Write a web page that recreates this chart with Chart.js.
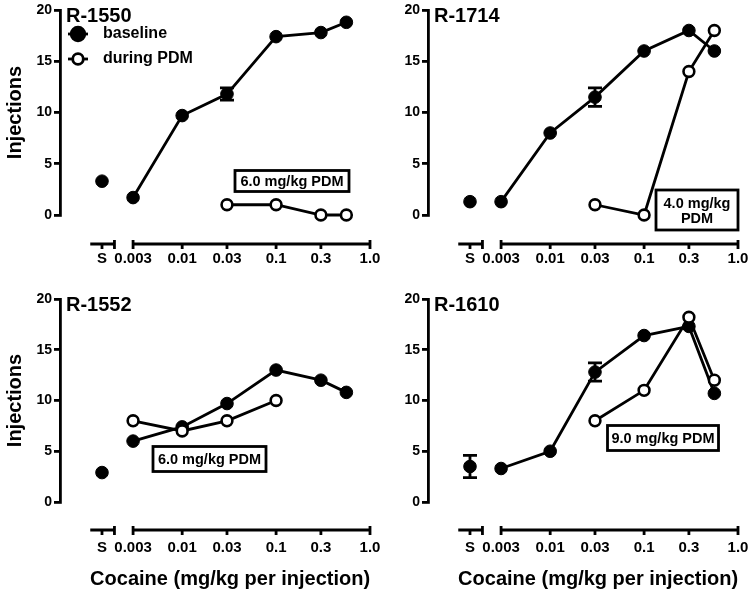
<!DOCTYPE html>
<html>
<head>
<meta charset="utf-8">
<script src="https://cdn.jsdelivr.net/npm/chart.js@4.4.1/dist/chart.umd.min.js"></script>
<style>
html,body{margin:0;padding:0;background:#fff;}
#wrap{position:relative;width:751px;height:594px;overflow:hidden;background:#fff;}
canvas{position:absolute;}
</style>
</head>
<body>
<div id="wrap">
<canvas id="c1" width="390" height="290" style="left:0;top:0"></canvas>
<canvas id="c2" width="381" height="290" style="left:370px;top:0"></canvas>
<canvas id="c3" width="390" height="304" style="left:0;top:290px"></canvas>
<canvas id="c4" width="381" height="304" style="left:370px;top:290px"></canvas>
</div>
<script>
// ---------------- DATA ----------------
const doses = [0.003, 0.01, 0.03, 0.1, 0.3, 0.56];
const salineDose = 0.0014;
const xTickValues = [0.0014, 0.003, 0.01, 0.03, 0.1, 0.3, 1.0];
const xTickLabels = ['S', '0.003', '0.01', '0.03', '0.1', '0.3', '1.0'];
const yTickValues = [0, 5, 10, 15, 20];
const subjects = ['R-1550', 'R-1714', 'R-1552', 'R-1610'];
const pdmDoseLabels = [['6.0 mg/kg PDM'], ['4.0 mg/kg', 'PDM'], ['6.0 mg/kg PDM'], ['9.0 mg/kg PDM']];
const legendLabels = ['baseline', 'during PDM'];
const xAxisTitle = 'Cocaine (mg/kg per injection)';
const yAxisTitle = 'Injections';

const salineR1550 = 3.3, salineErrR1550 = 0;
const baselineR1550 = [1.7, 9.7, 11.8, 17.4, 17.8, 18.8];
const baselineErrR1550 = [0, 0, 0.6, 0, 0, 0];
const pdmR1550 = [null, null, 1, 1, 0, 0];

const salineR1714 = 1.3, salineErrR1714 = 0;
const baselineR1714 = [1.3, 8.0, 11.5, 16.0, 18.0, 16.0];
const baselineErrR1714 = [0, 0, 0.9, 0, 0, 0];
const pdmR1714 = [null, null, 1, 0, 14, 18];

const salineR1552 = 2.9, salineErrR1552 = 0;
const baselineR1552 = [6.0, 7.4, 9.7, 13.0, 12.0, 10.8];
const baselineErrR1552 = [0, 0, 0, 0, 0, 0];
const pdmR1552 = [8, 7, 8, 10, null, null];

const salineR1610 = 3.5, salineErrR1610 = 1.1;
const baselineR1610 = [3.3, 5.0, 12.8, 16.4, 17.3, 10.7];
const baselineErrR1610 = [0, 0, 0.9, 0, 0, 0];
const pdmR1610 = [null, null, 8, 11, 18.2, 12];

// ---------------- STYLE / LAYOUT ----------------
const FONT = "'Liberation Sans', Arial, Helvetica, sans-serif";
Chart.defaults.font.family = FONT;
Chart.defaults.color = '#000';

const axisSegments = [[0.00105, 0.0019], [0.003, 1.0]];
const axisCaps = [0.0019, 0.003, 1.0];

const panels = [
  { id: 'c1', subj: 0, sal: salineR1550, salErr: salineErrR1550, base: baselineR1550, baseErr: baselineErrR1550, pdm: pdmR1550,
    pad: { left: 3, right: 20, top: 10, bottom: 0 }, yW: 57, xH: 75, yTitle: true, xTitle: false, tickGap: 36, axisGap: 29,
    legend: true, box: { cx: 292, cy: 181, w: 114, h: 21 } },
  { id: 'c2', subj: 1, sal: salineR1714, salErr: salineErrR1714, base: baselineR1714, baseErr: baselineErrR1714, pdm: pdmR1714,
    pad: { left: 0, right: 13, top: 10, bottom: 0 }, yW: 58, xH: 75, yTitle: false, xTitle: false, tickGap: 36, axisGap: 29,
    legend: false, box: { cx: 327, cy: 210, w: 82, h: 40 } },
  { id: 'c3', subj: 2, sal: salineR1552, salErr: salineErrR1552, base: baselineR1552, baseErr: baselineErrR1552, pdm: pdmR1552,
    pad: { left: 3, right: 20, top: 8, bottom: 0 }, yW: 57, xH: 92, yTitle: true, xTitle: true, tickGap: 38.5, axisGap: 28,
    legend: false, box: { cx: 209.5, cy: 169, w: 113, h: 25 } },
  { id: 'c4', subj: 3, sal: salineR1610, salErr: salineErrR1610, base: baselineR1610, baseErr: baselineErrR1610, pdm: pdmR1610,
    pad: { left: 0, right: 13, top: 8, bottom: 0 }, yW: 58, xH: 92, yTitle: false, xTitle: true, tickGap: 38.5, axisGap: 28,
    legend: false, box: { cx: 293, cy: 148, w: 111, h: 25 } }
];

const LW = 2.8;

const decorPlugin = {
  id: 'decor',
  afterDatasetsDraw(chart, args, o) {
    const ctx = chart.ctx, ys = chart.scales.y;
    ctx.save();
    ctx.strokeStyle = '#000';
    ctx.lineWidth = LW;
    chart.data.datasets.forEach((ds, i) => {
      if (!ds.errorBars) return;
      const meta = chart.getDatasetMeta(i);
      ds.errorBars.forEach((e, j) => {
        if (!e || ds.data[j].y == null) return;
        const pt = meta.data[j];
        const v = ds.data[j].y;
        const y1 = ys.getPixelForValue(v + e), y2 = ys.getPixelForValue(v - e);
        ctx.beginPath();
        ctx.moveTo(pt.x, y1); ctx.lineTo(pt.x, y2);
        ctx.moveTo(pt.x - 7, y1); ctx.lineTo(pt.x + 7, y1);
        ctx.moveTo(pt.x - 7, y2); ctx.lineTo(pt.x + 7, y2);
        ctx.stroke();
      });
    });
    ctx.restore();
  },
  afterDraw(chart, args, o) {
    const ctx = chart.ctx, xs = chart.scales.x, ca = chart.chartArea;
    ctx.save();
    ctx.strokeStyle = '#000';
    ctx.fillStyle = '#000';
    ctx.lineWidth = LW;
    // broken x axis
    const yl = ca.bottom + o.axisGap;
    ctx.beginPath();
    axisSegments.forEach(([a, b]) => {
      ctx.moveTo(xs.getPixelForValue(a), yl);
      ctx.lineTo(xs.getPixelForValue(b), yl);
    });
    axisCaps.forEach(v => {
      const px = xs.getPixelForValue(v);
      ctx.moveTo(px, yl - 4); ctx.lineTo(px, yl + 5);
    });
    xTickValues.forEach(v => {
      const px = xs.getPixelForValue(v);
      ctx.moveTo(px, yl); ctx.lineTo(px, yl + 5);
    });
    ctx.stroke();

    // subject label
    ctx.font = 'bold 20px ' + FONT;
    ctx.textAlign = 'left';
    ctx.textBaseline = 'middle';
    ctx.fillText(subjects[o.subj], ca.left + 6, ca.top + 6);

    // legend
    if (o.legend) {
      const lx = ca.left + 8, rows = [ca.top + 24, ca.top + 49];
      rows.forEach((ry, k) => {
        ctx.beginPath();
        ctx.moveTo(lx, ry); ctx.lineTo(lx + 20, ry);
        ctx.stroke();
        ctx.beginPath();
        ctx.arc(lx + 10, ry, k === 0 ? 6.8 : 5.3, 0, Math.PI * 2);
        ctx.fillStyle = k === 0 ? '#000' : '#fff';
        ctx.fill();
        ctx.stroke();
        ctx.fillStyle = '#000';
        ctx.font = 'bold 16px ' + FONT;
        ctx.textAlign = 'left';
        ctx.fillText(legendLabels[k], lx + 35, ry);
      });
    }

    // PDM dose box
    const b = o.box;
    ctx.fillStyle = '#fff';
    ctx.fillRect(b.cx - b.w / 2, b.cy - b.h / 2, b.w, b.h);
    ctx.strokeRect(b.cx - b.w / 2, b.cy - b.h / 2, b.w, b.h);
    ctx.fillStyle = '#000';
    ctx.font = 'bold 14.5px ' + FONT;
    ctx.textAlign = 'center';
    ctx.textBaseline = 'middle';
    const lines = pdmDoseLabels[o.subj];
    const lh = 15;
    lines.forEach((t, k) => {
      ctx.fillText(t, b.cx, b.cy + (k - (lines.length - 1) / 2) * lh + 1);
    });

    // x axis title (centred on the full broken axis)
    if (o.xTitle) {
      const x0 = xs.getPixelForValue(axisSegments[0][0]);
      const x1 = xs.getPixelForValue(axisSegments[1][1]);
      ctx.font = 'bold 20px ' + FONT;
      ctx.textAlign = 'center';
      ctx.textBaseline = 'middle';
      ctx.fillText(xAxisTitle, (x0 + x1) / 2, chart.height - 15);
    }
    ctx.restore();
  }
};

panels.forEach(p => {
  const baseData = doses.map((d, i) => ({ x: d, y: p.base[i] }));
  const pdmData = doses.map((d, i) => ({ x: d, y: p.pdm[i] }));
  const cfg = {
    type: 'line',
    data: {
      datasets: [
        { label: legendLabels[1], data: pdmData, order: 0, clip: false,
          borderColor: '#000', borderWidth: LW, backgroundColor: '#fff',
          pointRadius: 5.4, pointBorderWidth: 2.6, pointBackgroundColor: '#fff', pointBorderColor: '#000', spanGaps: false },
        { label: legendLabels[0], data: baseData, order: 1, clip: false, errorBars: p.baseErr,
          borderColor: '#000', borderWidth: LW, backgroundColor: '#000',
          pointRadius: 6.3, pointBorderWidth: 1, pointBackgroundColor: '#000', pointBorderColor: '#000' },
        { label: 'saline', data: [{ x: salineDose, y: p.sal }], order: 2, clip: false, showLine: false, errorBars: [p.salErr],
          borderColor: '#000', backgroundColor: '#000',
          pointRadius: 6.3, pointBorderWidth: 1, pointBackgroundColor: '#000', pointBorderColor: '#000' }
      ]
    },
    options: {
      responsive: false,
      animation: false,
      events: [],
      layout: { padding: p.pad },
      plugins: {
        legend: { display: false },
        tooltip: { enabled: false },
        decor: { subj: p.subj, legend: p.legend, box: p.box, xTitle: p.xTitle, axisGap: p.axisGap }
      },
      scales: {
        x: {
          type: 'logarithmic',
          min: 0.0005,
          max: 1.0,
          afterBuildTicks: s => { s.ticks = xTickValues.map(v => ({ value: v })); },
          afterFit: s => { s.height = p.xH; },
          grid: { display: true, drawOnChartArea: false, drawTicks: true, tickLength: p.tickGap, color: 'rgba(0,0,0,0)' },
          border: { display: false },
          ticks: {
            autoSkip: false, maxRotation: 0, minRotation: 0,
            padding: 0,
            color: '#000',
            font: { weight: 'bold', size: 15, lineHeight: 1 },
            callback: (v, i) => xTickLabels[i]
          }
        },
        y: {
          type: 'linear',
          min: 0,
          max: 20,
          afterBuildTicks: s => { s.ticks = yTickValues.map(v => ({ value: v })); },
          afterFit: s => { s.width = p.yW; },
          grid: { display: true, drawOnChartArea: false, drawTicks: true, tickLength: 6, color: '#000', lineWidth: LW },
          border: { display: true, color: '#000', width: LW },
          ticks: { color: '#000', padding: 2, font: { weight: 'bold', size: 14, lineHeight: 1 } },
          title: { display: p.yTitle, text: yAxisTitle, color: '#000', padding: { top: 0, bottom: 0 },
                   font: { weight: 'bold', size: 20 } }
        }
      }
    },
    plugins: [decorPlugin]
  };
  new Chart(document.getElementById(p.id), cfg);
});
</script>
</body>
</html>
